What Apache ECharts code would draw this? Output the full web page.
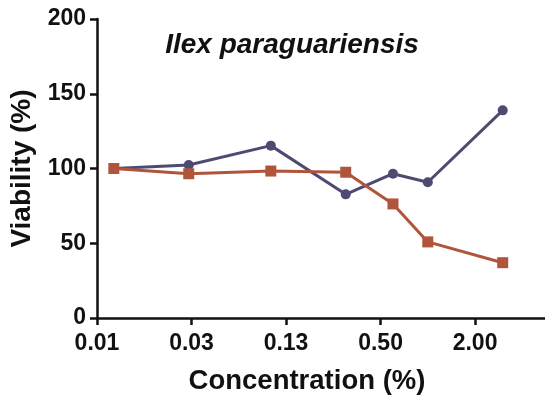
<!DOCTYPE html>
<html>
<head>
<meta charset="utf-8">
<script src="https://cdn.jsdelivr.net/npm/echarts@6/dist/echarts.min.js"></script>
<style>html,body{margin:0;padding:0;background:#fff}#c{width:545px;height:395px}</style>
</head>
<body>
<div id="c"></div>
<script>
const concentrations = [0.01, 0.03, 0.1, 0.3, 0.6, 1, 3];
const seriesA = [100, 102.3, 115.3, 82.7, 96.5, 90.8, 138.9];
const seriesB = [100, 96.5, 98.3, 97.5, 76.3, 50.9, 37.0];
const xTickLabels = ['0.01', '0.03', '0.13', '0.50', '2.00'];
const xTickBase = 0.0078125; // 4^-3.5
const yTicks = [0, 50, 100, 150, 200];

const toX = c => Math.log(c / xTickBase) / Math.log(4);
const tickPos = xTickLabels.map((_, i) => i);

const chart = echarts.init(document.getElementById('c'));
const font = 'Liberation Sans, Arial, sans-serif';
chart.setOption({
  animation: false,
  grid: {left: 93, right: 0, top: 19, bottom: 77, containLabel: false},
  xAxis: {
    type: 'value', min: 0, max: 4.74, interval: 1,
    axisLine: {show: true, lineStyle: {color: '#111', width: 2.5}},
    axisTick: {show: true, length: 7, inside: false, lineStyle: {color: '#111', width: 2.5}, customValues: tickPos},
    axisLabel: {customValues: tickPos, formatter: v => xTickLabels[Math.round(v)] || '', color: '#111', fontFamily: font, fontWeight: 'bold', fontSize: 23, margin: 14},
    splitLine: {show: false}
  },
  yAxis: {
    type: 'value', min: 0, max: 200, interval: 50,
    axisLine: {show: true, lineStyle: {color: '#111', width: 2.5}},
    axisTick: {show: true, length: 7, lineStyle: {color: '#111', width: 2.5}},
    axisLabel: {customValues: yTicks, color: '#111', fontFamily: font, fontWeight: 'bold', fontSize: 23, margin: 11},
    splitLine: {show: false},
    name: 'Viability (%)', nameLocation: 'middle', nameGap: 61,
    nameTextStyle: {color: '#111', fontFamily: font, fontWeight: 'bold', fontSize: 28}
  },
  graphic: [
    {type: 'text', style: {text: 'Ilex paraguariensis', fill: '#111', font: 'italic bold 28px ' + font, textAlign: 'center', textVerticalAlign: 'middle', x: 292, y: 45}},
    {type: 'text', style: {text: 'Concentration (%)', fill: '#111', font: 'bold 27.5px ' + font, textAlign: 'center', textVerticalAlign: 'middle', x: 307, y: 381}}
  ],
  series: [
    {type: 'line', data: concentrations.map((c, i) => [toX(c), seriesA[i]]), symbol: 'circle', symbolSize: 10,
     lineStyle: {color: '#4e4b72', width: 3}, itemStyle: {color: '#4e4b72'}},
    {type: 'line', data: concentrations.map((c, i) => [toX(c), seriesB[i]]), symbol: 'rect', symbolSize: 11,
     lineStyle: {color: '#b0553c', width: 3}, itemStyle: {color: '#b0553c'}}
  ]
});
</script>
</body>
</html>
